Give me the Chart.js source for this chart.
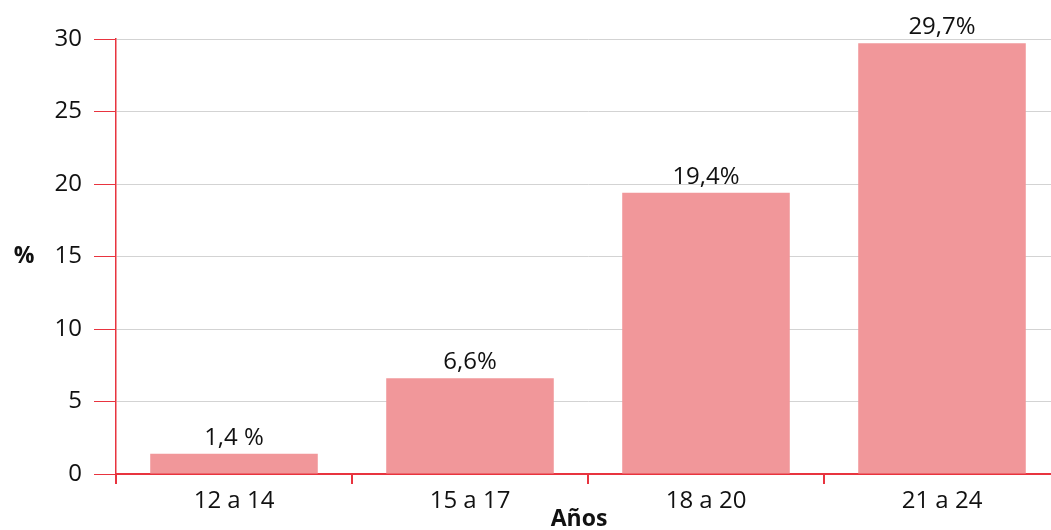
<!DOCTYPE html>
<html lang="es">
<head>
<meta charset="UTF-8" />
<title>Años</title>
<script src="https://cdn.jsdelivr.net/npm/chart.js"></script>
<style>
  html, body { margin: 0; padding: 0; background: #fff; overflow: hidden; }
  #wrap { position: relative; width: 1062px; height: 530px; }
</style>
</head>
<body>
<div id="wrap"><canvas id="grafico"></canvas></div>
<script>
// datos del gráfico
const categorias = ["12 a 14", "15 a 17", "18 a 20", "21 a 24"];
const valores = [1.4, 6.6, 19.4, 29.7];
const etiquetas = ["1,4 %", "6,6%", "19,4%", "29,7%"];
const ticksY = [0, 5, 10, 15, 20, 25, 30];

const rojo = "#e8343f";
const rosa = "#f1979a";
const fuente = "'Open Sans', 'Noto Sans', sans-serif";

// textos sobre las barras y títulos de los ejes
const textos = {
  id: "textos",
  afterDatasetsDraw(chart) {
    const ctx = chart.ctx;
    const meta = chart.getDatasetMeta(0);
    ctx.save();
    ctx.fillStyle = "#111";
    ctx.font = "24px " + fuente;
    ctx.textAlign = "center";
    ctx.textBaseline = "alphabetic";
    meta.data.forEach((bar, i) => {
      ctx.fillText(etiquetas[i], bar.x, bar.y - 9);
    });
    ctx.font = "bold 23px " + fuente;
    ctx.textBaseline = "middle";
    ctx.fillText("%", 24, chart.scales.y.getPixelForValue(15));
    ctx.fillText("Años", 579, 519);
    ctx.restore();
  }
};

new Chart(document.getElementById("grafico"), {
  type: "bar",
  data: {
    labels: categorias,
    datasets: [{
      data: valores,
      backgroundColor: rosa,
      borderWidth: 0,
      barPercentage: 0.71,
      categoryPercentage: 1
    }]
  },
  options: {
    responsive: true,
    maintainAspectRatio: false,
    animation: false,
    layout: { padding: { top: 39, right: 2, left: 0, bottom: 0 } },
    plugins: { legend: { display: false }, tooltip: { enabled: false } },
    scales: {
      x: {
        afterFit: (s) => { s.height = 56; },
        grid: {
          offset: true,
          drawOnChartArea: false,
          tickColor: rojo,
          tickLength: 10,
          lineWidth: 2
        },
        border: { color: rojo, width: 2 },
        ticks: { color: "#111", font: { family: fuente, size: 24 }, padding: 3 }
      },
      y: {
        min: 0,
        max: 30,
        afterFit: (s) => { s.width = 116; },
        afterBuildTicks: (s) => { s.ticks = ticksY.map(v => ({ value: v })); },
        grid: {
          color: "#d3d3d3",
          tickColor: rojo,
          tickLength: 22,
          lineWidth: 1
        },
        border: { color: rojo, width: 1.5 },
        ticks: { color: "#111", font: { family: fuente, size: 24 }, padding: 12 }
      }
    }
  },
  plugins: [textos]
});
</script>
</body>
</html>
